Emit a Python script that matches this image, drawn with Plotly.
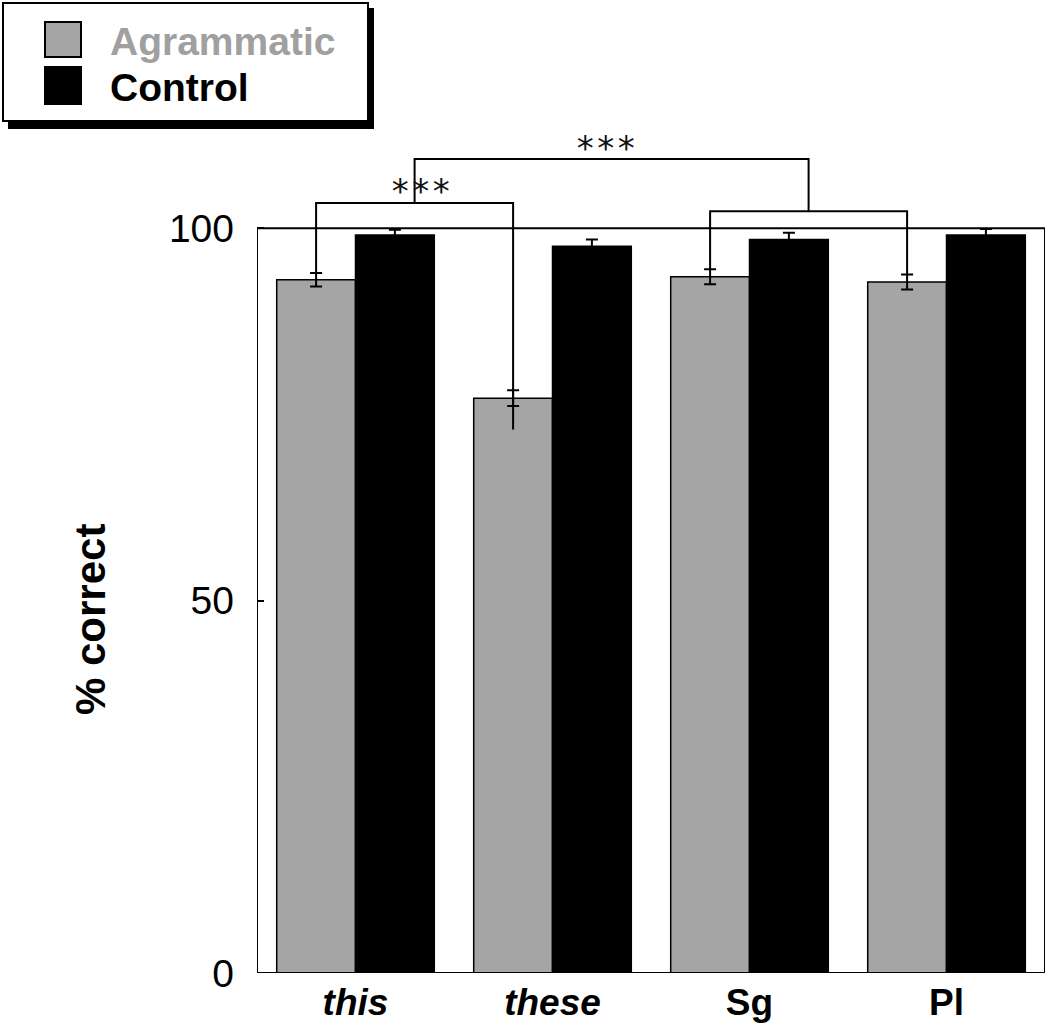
import plotly.graph_objects as go

categories = ["this", "these", "Sg", "Pl"]
tick_labels = ["<b><i>this</i></b>", "<b><i>these</i></b>", "<b>Sg</b>", "<b>Pl</b>"]
agrammatic = [93.1, 77.2, 93.5, 92.8]
agrammatic_err = [0.9, 1.05, 1.0, 1.0]
control = [99.1, 97.6, 98.5, 99.1]
control_err = [0.7, 0.9, 0.9, 0.8]
sig_labels = ["***", "***"]

GRAY = "#a5a5a5"
FONT = "Liberation Sans, Arial, sans-serif"

W, H = 1050, 1028
ML, MR, MT, MB = 257, 5, 139, 55
PW, PH = W - ML - MR, H - MT - MB

def px_x(p):
    return (p - ML) / PW

def px_y(p):
    return (H - MB - p) / PH

fig = go.Figure()
fig.add_trace(go.Bar(
    x=[0, 1, 2, 3], y=agrammatic, name="Agrammatic",
    marker=dict(color=GRAY, line=dict(color="black", width=1.5)),
    error_y=dict(type="data", array=agrammatic_err, color="black", thickness=2, width=6),
))
fig.add_trace(go.Bar(
    x=[0, 1, 2, 3], y=control, name="Control",
    marker=dict(color="black", line=dict(color="black", width=1.5)),
    error_y=dict(type="data", array=control_err, color="black", thickness=2, width=6),
))

# significance brackets (group offsets for Agrammatic bar = -0.2)
off = -0.2
a = [i + off for i in range(4)]
b1_y = 103.4
b2_y = 102.3
top_y = 109.3
mid1 = (a[0] + a[1]) / 2
mid2 = (a[2] + a[3]) / 2
bx = [a[0], a[0], a[1], a[1], None,
      a[2], a[2], a[3], a[3], None,
      mid1, mid1, mid2, mid2]
by = [agrammatic[0] + agrammatic_err[0], b1_y, b1_y, 73.0, None,
      agrammatic[2] + agrammatic_err[2], b2_y, b2_y, agrammatic[3] + agrammatic_err[3], None,
      b1_y, top_y, top_y, b2_y]
fig.add_trace(go.Scatter(x=bx, y=by, mode="lines", line=dict(color="black", width=2),
                         showlegend=False, hoverinfo="skip"))

shapes = []
# plot frame
shapes.append(dict(type="rect", xref="x", yref="y", x0=-0.5, x1=3.5, y0=0, y1=100,
                   line=dict(color="black", width=2), layer="above"))
# legend shadow and box
shapes.append(dict(type="rect", xref="paper", yref="paper",
                   x0=px_x(8), x1=px_x(374), y0=px_y(129), y1=px_y(8),
                   fillcolor="black", line=dict(width=0)))
shapes.append(dict(type="rect", xref="paper", yref="paper",
                   x0=px_x(3), x1=px_x(368), y0=px_y(121), y1=px_y(3),
                   fillcolor="white", line=dict(color="black", width=2)))
shapes.append(dict(type="rect", xref="paper", yref="paper",
                   x0=px_x(45), x1=px_x(81), y0=px_y(57), y1=px_y(22),
                   fillcolor=GRAY, line=dict(color="black", width=2)))
shapes.append(dict(type="rect", xref="paper", yref="paper",
                   x0=px_x(45), x1=px_x(81), y0=px_y(104), y1=px_y(67),
                   fillcolor="black", line=dict(color="black", width=2)))

STAR_FONT = dict(family="DejaVu Sans Mono, monospace", size=34, color="#111111")
annotations = [
    dict(xref="paper", yref="paper", x=px_x(108), y=px_y(41), xanchor="left", yanchor="middle",
         text="<b>Agrammatic</b>", showarrow=False, font=dict(family=FONT, size=39, color="#a0a0a0")),
    dict(xref="paper", yref="paper", x=px_x(108), y=px_y(88), xanchor="left", yanchor="middle",
         text="<b>Control</b>", showarrow=False, font=dict(family=FONT, size=39, color="black")),
    dict(xref="paper", yref="paper", x=px_x(90), y=px_y(620), xanchor="center", yanchor="middle",
         text="<b>% correct</b>", textangle=-90, showarrow=False,
         font=dict(family=FONT, size=42, color="black")),
    dict(xref="x", yref="y", x=mid1 + 0.03, y=105.0, text=sig_labels[0],
         showarrow=False, font=STAR_FONT),
    dict(xref="x", yref="y", x=(mid1 + mid2) / 2 - 0.03, y=110.8, text=sig_labels[1],
         showarrow=False, font=STAR_FONT),
]

fig.update_layout(
    width=W, height=H,
    margin=dict(l=ML, r=MR, t=MT, b=MB, pad=0, autoexpand=False),
    paper_bgcolor="white", plot_bgcolor="white",
    barmode="group", bargap=0.2, bargroupgap=0,
    showlegend=False,
    shapes=shapes, annotations=annotations,
    font=dict(family=FONT, color="black"),
    xaxis=dict(range=[-0.5, 3.5], tickmode="array", tickvals=[0, 1, 2, 3], ticktext=tick_labels,
               showgrid=False, zeroline=False, showline=False, ticks="", automargin=False,
               tickfont=dict(family=FONT, size=37, color="black"), ticklabelstandoff=4),
    yaxis=dict(range=[0, 112], tickmode="array", tickvals=[0, 50, 100], ticktext=["0", "50", "100"],
               showgrid=False, zeroline=False, showline=False, ticks="inside", ticklen=7,
               tickwidth=2, tickcolor="black", automargin=False,
               tickfont=dict(family=FONT, size=39, color="black"), ticklabelstandoff=22),
)

fig.write_html("out.html", config={"displayModeBar": False},
               post_script="document.body.style.margin='0';document.body.style.overflow='hidden';")
